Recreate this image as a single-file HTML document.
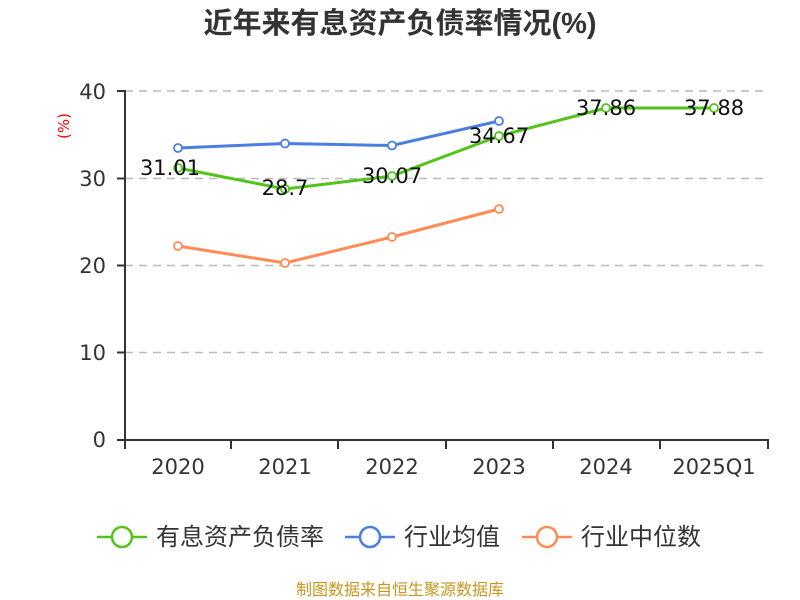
<!DOCTYPE html><html><head><meta charset="utf-8"><style>body{margin:0;background:#fff}svg{display:block}</style></head><body>
<svg width="800" height="600" xmlns="http://www.w3.org/2000/svg" font-family="DejaVu Sans, Noto Sans CJK SC, sans-serif">
<text x="400" y="33" text-anchor="middle" font-size="29" font-weight="bold" fill="#333" font-family="Liberation Sans, Noto Sans CJK SC, sans-serif">近年来有息资产负债率情况(%)</text>
<text x="69" y="126" font-size="15" fill="#e00" text-anchor="middle" transform="rotate(-90 69 126)">(%)</text>
<g stroke="#bbb" stroke-width="1.4" stroke-dasharray="8,6">
<line x1="125" y1="91" x2="768" y2="91"/><line x1="125" y1="178.5" x2="768" y2="178.5"/><line x1="125" y1="265.5" x2="768" y2="265.5"/><line x1="125" y1="352.5" x2="768" y2="352.5"/></g>
<g stroke="#333" stroke-width="2"><line x1="125" y1="90" x2="125" y2="441"/><line x1="124" y1="440" x2="769" y2="440"/>
<line x1="117" y1="91" x2="125" y2="91"/><line x1="117" y1="178.5" x2="125" y2="178.5"/><line x1="117" y1="265.5" x2="125" y2="265.5"/><line x1="117" y1="352.5" x2="125" y2="352.5"/><line x1="117" y1="440" x2="125" y2="440"/>
<line x1="125" y1="440" x2="125" y2="449"/><line x1="231" y1="440" x2="231" y2="449"/><line x1="338" y1="440" x2="338" y2="449"/><line x1="446" y1="440" x2="446" y2="449"/><line x1="553" y1="440" x2="553" y2="449"/><line x1="660" y1="440" x2="660" y2="449"/><line x1="768" y1="440" x2="768" y2="449"/></g>
<g font-size="21" fill="#333" text-anchor="end"><text x="106" y="99">40</text><text x="106" y="186">30</text><text x="106" y="273">20</text><text x="106" y="360">10</text><text x="106" y="447">0</text></g>
<g font-size="21" fill="#333" text-anchor="middle"><text x="178" y="474">2020</text><text x="285" y="474">2021</text><text x="392" y="474">2022</text><text x="499" y="474">2023</text><text x="606" y="474">2024</text><text x="714" y="474">2025Q1</text></g>
<g fill="#fff" stroke-width="1.8">
<polyline points="178,246 285,263 392,237 499,209" fill="none" stroke="#ff8c55" stroke-width="3"/>
<g stroke="#ff8c55"><circle cx="178" cy="246" r="4"/><circle cx="285" cy="263" r="4"/><circle cx="392" cy="237" r="4"/><circle cx="499" cy="209" r="4"/></g>
<polyline points="178,148 285,143.5 392,145.5 499,121" fill="none" stroke="#4a7fe0" stroke-width="3"/>
<g stroke="#4a7fe0"><circle cx="178" cy="148" r="4"/><circle cx="285" cy="143.5" r="4"/><circle cx="392" cy="145.5" r="4"/><circle cx="499" cy="121" r="4"/></g>
<polyline points="178,168 285,189 392,176 499,136 606,108 714,108" fill="none" stroke="#52c41a" stroke-width="3"/>
<g stroke="#52c41a"><circle cx="178" cy="168" r="4"/><circle cx="285" cy="189" r="4"/><circle cx="392" cy="176" r="4"/><circle cx="499" cy="136" r="4"/><circle cx="606" cy="108" r="4"/><circle cx="714" cy="108" r="4"/></g></g>
<g font-size="21" fill="#111" text-anchor="middle"><text x="170" y="175">31.01</text><text x="285" y="195">28.7</text><text x="392" y="183">30.07</text><text x="499" y="143">34.67</text><text x="606" y="115">37.86</text><text x="714" y="115">37.88</text></g>
<g stroke-width="2.5" fill="#fff">
<line x1="97" y1="537" x2="147" y2="537" stroke="#52c41a"/><circle cx="122" cy="537" r="10" stroke="#52c41a"/>
<line x1="345" y1="537" x2="395" y2="537" stroke="#4a7fe0"/><circle cx="370" cy="537" r="10" stroke="#4a7fe0"/>
<line x1="522" y1="537" x2="572" y2="537" stroke="#ff8c55"/><circle cx="547" cy="537" r="10" stroke="#ff8c55"/></g>
<g font-size="24" fill="#333"><text x="156" y="545">有息资产负债率</text><text x="404" y="545">行业均值</text><text x="581" y="545">行业中位数</text></g>
<text x="400" y="595" text-anchor="middle" font-size="16" fill="#c8961e">制图数据来自恒生聚源数据库</text>
</svg></body></html>
